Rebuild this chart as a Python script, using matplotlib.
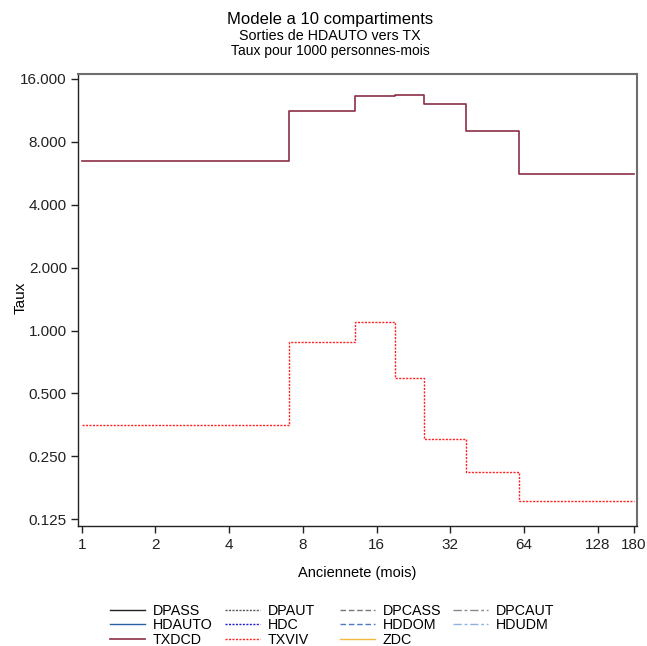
import matplotlib
matplotlib.use("Agg")
import matplotlib.pyplot as plt
from matplotlib.ticker import FixedLocator, FixedFormatter, NullLocator

plt.rcParams['font.family'] = ['Liberation Sans', 'DejaVu Sans']

# bornes des intervalles d'anciennete (mois) et taux par intervalle
bornes = [1, 7, 13, 19, 25, 37, 61, 180]
txdcd = [6.5, 11.3, 13.3, 13.4, 12.2, 9.0, 5.6]
txviv = [0.352, 0.886, 1.10, 0.591, 0.304, 0.210, 0.152]

xticks = [1, 2, 4, 8, 16, 32, 64, 128, 180]
yticks = [0.125, 0.25, 0.5, 1, 2, 4, 8, 16]
ylabels = ['0.125', '0.250', '0.500', '1.000', '2.000', '4.000', '8.000', '16.000']

# series (la plupart n'apparaissent que dans la legende)
series = [
    ('DPASS', '#222222', '-'),
    ('HDAUTO', '#2b5ea7', '-'),
    ('TXDCD', '#8b2e45', '-'),
    ('DPAUT', '#555555', (0, (1.5, 1))),
    ('HDC', '#1f1fd0', (0, (1.5, 1))),
    ('TXVIV', '#ff2020', (0, (1.5, 1))),
    ('DPCASS', '#777777', (0, (4, 2))),
    ('HDDOM', '#4a7ac0', (0, (4, 2))),
    ('ZDC', '#f5b942', '-'),
    ('DPCAUT', '#888888', (0, (6, 2, 2, 2))),
    ('HDUDM', '#8fb0e0', (0, (6, 2, 2, 2))),
]

fig = plt.figure(figsize=(6.47, 6.46), dpi=100)
ax = fig.add_axes([0.1206, 0.1858, 0.8639, 0.6996])

handles = []
for name, col, ls in series:
    if name == 'TXDCD':
        h, = ax.step(bornes, txdcd + [txdcd[-1]], where='post', color=col, lw=1.2, ls=ls)
    elif name == 'TXVIV':
        h, = ax.step(bornes, txviv + [txviv[-1]], where='post', color=col, lw=1.0, ls=ls)
    else:
        h, = ax.plot([], [], color=col, lw=1.0, ls=ls)
    h.set_label(name)
    handles.append(h)

ax.set_xscale('log', base=2)
ax.set_yscale('log', base=2)
ax.set_xlim(0.966, 185)
ax.set_ylim(0.116, 16.9)
ax.xaxis.set_major_locator(FixedLocator(xticks))
ax.xaxis.set_major_formatter(FixedFormatter([str(v) for v in xticks]))
ax.xaxis.set_minor_locator(NullLocator())
ax.yaxis.set_major_locator(FixedLocator(yticks))
ax.yaxis.set_major_formatter(FixedFormatter(ylabels))
ax.yaxis.set_minor_locator(NullLocator())
ax.tick_params(axis='both', direction='out', length=5, width=1, labelsize=11, colors='#222222')
ax.tick_params(axis='x', pad=4)
ax.tick_params(axis='y', pad=3)

for s in ['top', 'right']:
    ax.spines[s].set_color('#6e6e6e')
    ax.spines[s].set_linewidth(1.5)
for s in ['left', 'bottom']:
    ax.spines[s].set_color('#222222')
    ax.spines[s].set_linewidth(1.0)

ax.set_xlabel('Anciennete (mois)', fontsize=10.5)
ax.set_ylabel('Taux', fontsize=11)
ax.xaxis.set_label_coords(0.5, -0.088)
ax.yaxis.set_label_coords(-0.091, 0.504)

fig.text(0.51, 0.970, 'Modele a 10 compartiments', ha='center', va='center', fontsize=12)
fig.text(0.51, 0.945, 'Sorties de HDAUTO vers TX', ha='center', va='center', fontsize=10.3)
fig.text(0.51, 0.921, 'Taux pour 1000 personnes-mois', ha='center', va='center', fontsize=10)

# legende en 4 colonnes de largeur fixe
col_x = [110, 225, 340, 453]
for i, x0 in enumerate(col_x):
    fig.legend(handles=handles[3 * i:3 * i + 3], loc='upper left',
               bbox_to_anchor=(x0 / 647, 1 - 604 / 646), frameon=False,
               fontsize=10.3, handlelength=2.45, handletextpad=0.55,
               labelspacing=0.02, borderpad=0, borderaxespad=0)

fig.savefig('out.png', dpi=100)
